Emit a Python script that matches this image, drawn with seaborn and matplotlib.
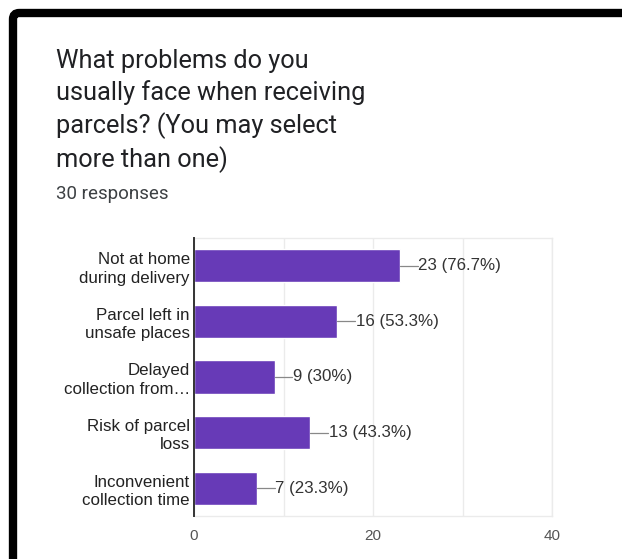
import matplotlib
matplotlib.use("Agg")
import matplotlib.pyplot as plt
from matplotlib.patches import FancyBboxPatch
import seaborn as sns
import pandas as pd

categories = [
    "Not at home\nduring delivery",
    "Parcel left in\nunsafe places",
    "Delayed\ncollection from…",
    "Risk of parcel\nloss",
    "Inconvenient\ncollection time",
]
counts = [23, 16, 9, 13, 7]
percents = ["76.7%", "53.3%", "30%", "43.3%", "23.3%"]
x_ticks = [0, 10, 20, 30, 40]
x_tick_labels = ["0", "", "20", "", "40"]
title = "What problems do you\nusually face when receiving\nparcels? (You may select\nmore than one)"
subtitle = "30 responses"

df = pd.DataFrame({"category": categories, "count": counts})

sns.set_style("white")
plt.rcParams["font.family"] = ["Liberation Sans", "DejaVu Sans"]

W, H = 622, 559
fig = plt.figure(figsize=(W / 100, H / 100), dpi=100)
fig.patch.set_facecolor("white")
ax = fig.add_axes([194 / W, 1 - 516 / H, (552 - 194) / W, (516 - 238) / H])

sns.barplot(data=df, x="count", y="category", orient="h", color="#673ab7",
            saturation=1, width=0.6, ax=ax, zorder=3)

ax.set_xlim(0, 40)
ax.set_ylim(4.5, -0.5)
ax.set_xticks(x_ticks)
ax.set_xticklabels(x_tick_labels, fontsize=11, color="#555555")
ax.tick_params(axis="x", length=0, pad=9)
ax.tick_params(axis="y", length=0, pad=3, labelsize=12.2, labelcolor="#222222")
for lab in ax.get_yticklabels():
    lab.set_linespacing(1.27)
ax.set_xlabel("")
ax.set_ylabel("")
ax.grid(axis="x", color="#ebebeb", linewidth=1, zorder=0)
for s in ["top", "right", "bottom"]:
    ax.spines[s].set_visible(True)
    ax.spines[s].set_color("#ebebeb")
    ax.spines[s].set_linewidth(1)
ax.spines["left"].set_color("#333333")
ax.spines["left"].set_linewidth(1.4)
ax.spines["left"].set_zorder(5)

for i, (v, p) in enumerate(zip(counts, percents)):
    ax.plot([v, v + 2.0], [i, i], color="#888888", linewidth=0.9, zorder=4)
    ax.text(v + 2.05, i, f"{v} ({p})", va="center", ha="left",
            fontsize=12.2, color="#333333", zorder=4)

fig.text(56 / W, 1 - 49 / H, title, family=["Roboto", "DejaVu Sans"],
         fontsize=18.3, color="#202124", va="top", ha="left", linespacing=1.34)
fig.text(56 / W, 1 - 194 / H, subtitle, family=["Roboto", "DejaVu Sans"],
         fontsize=13.5, color="#3c4043", va="center", ha="left")

# black frame (top and left edges)
frame = FancyBboxPatch((13 / W, -0.2), 1.2, 1.2 - 13 / H,
                       boxstyle="round,pad=0,rounding_size=0.01",
                       mutation_aspect=W / H,
                       transform=fig.transFigure, facecolor="none",
                       edgecolor="black", linewidth=6, zorder=10)
fig.patches.append(frame)

fig.savefig("out.png", dpi=100)
